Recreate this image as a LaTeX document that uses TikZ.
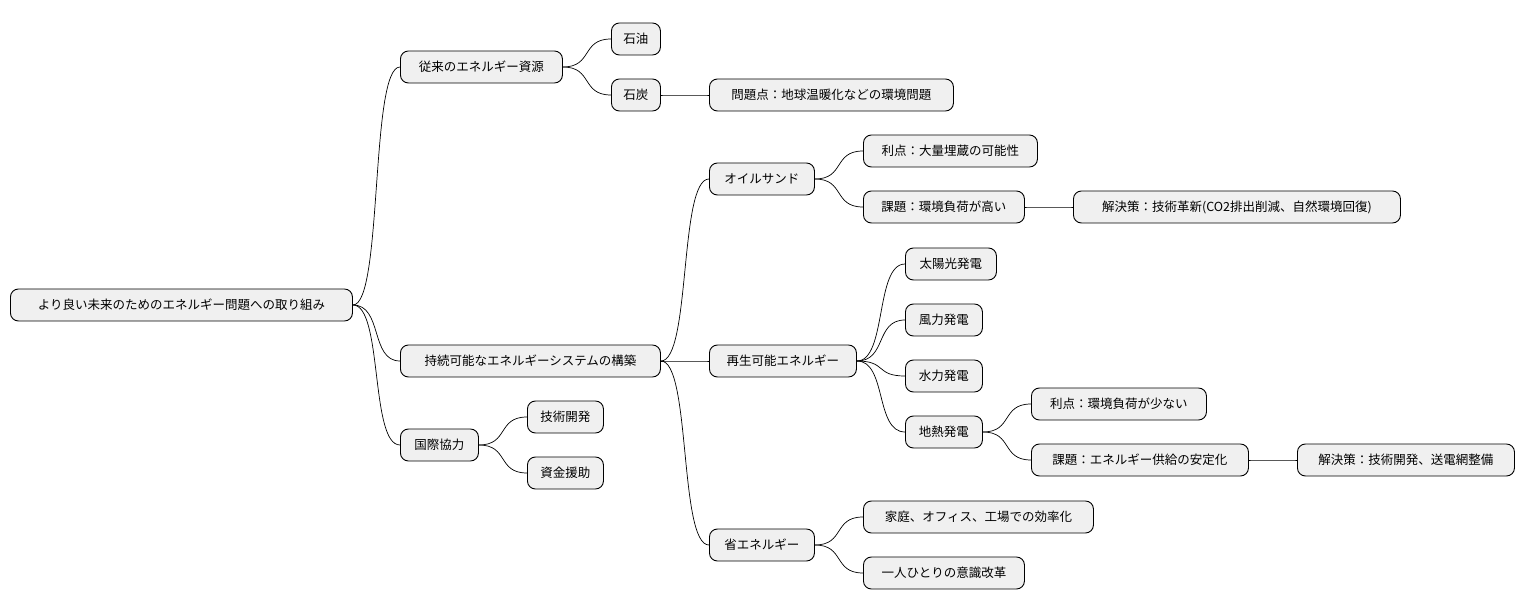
\documentclass[tikz,border=0pt]{standalone}
\usepackage{fontspec}
\setmainfont{Noto Sans CJK JP}
\begin{document}
\begin{tikzpicture}[x=1pt,y=-1pt,
  n/.style={draw=black,line width=0.9pt,fill=black!6,rounded corners=8pt,anchor=west,minimum height=32pt,inner sep=0pt,font=\fontsize{12.5}{14}\selectfont},
  c/.style={line width=0.7pt,black}]
\useasboundingbox (0,0) rectangle (1524,612);
\def\N#1#2#3#4#5{\node[n,minimum width=#3-#2] (#1) at (#2,#4) {#5};}
\N{r}{10}{352}{305}{より良い未来のためのエネルギー問題への取り組み}
\N{a}{400}{562}{67}{従来のエネルギー資源}
\N{a1}{611}{660}{39}{石油}
\N{a2}{611}{660}{95}{石炭}
\N{a3}{709}{953}{95}{問題点：地球温暖化などの環境問題}
\N{b}{400}{660}{361}{持続可能なエネルギーシステムの構築}
\N{b1}{709}{814}{179}{オイルサンド}
\N{b11}{863}{1037}{151}{利点：大量埋蔵の可能性}
\N{b12}{863}{1024}{207}{課題：環境負荷が高い}
\N{b13}{1073}{1400}{207}{解決策：技術革新(CO2排出削減、自然環境回復)}
\N{b2}{709}{856}{361}{再生可能エネルギー}
\N{b21}{905}{996}{264}{太陽光発電}
\N{b22}{905}{982}{320}{風力発電}
\N{b23}{905}{982}{376}{水力発電}
\N{b24}{905}{982}{432}{地熱発電}
\N{b241}{1031}{1206}{404}{利点：環境負荷が少ない}
\N{b242}{1031}{1248}{460}{課題：エネルギー供給の安定化}
\N{b243}{1297}{1514}{460}{解決策：技術開発、送電網整備}
\N{b3}{709}{814}{545}{省エネルギー}
\N{b31}{863}{1093}{517}{家庭、オフィス、工場での効率化}
\N{b32}{863}{1024}{573}{一人ひとりの意識改革}
\N{c}{400}{478}{445}{国際協力}
\N{c1}{527}{603}{417}{技術開発}
\N{c2}{527}{603}{473}{資金援助}
\def\E#1#2{\draw[c] (#1.east) .. controls +(30,0) and +(-30,0) .. (#2.west);}
\E{r}{a}\E{r}{b}\E{r}{c}
\E{a}{a1}\E{a}{a2}\E{a2}{a3}
\E{b}{b1}\E{b}{b2}\E{b}{b3}
\E{b1}{b11}\E{b1}{b12}\E{b12}{b13}
\E{b2}{b21}\E{b2}{b22}\E{b2}{b23}\E{b2}{b24}
\E{b24}{b241}\E{b24}{b242}\E{b242}{b243}
\E{b3}{b31}\E{b3}{b32}
\E{c}{c1}\E{c}{c2}
\end{tikzpicture}
\end{document}
